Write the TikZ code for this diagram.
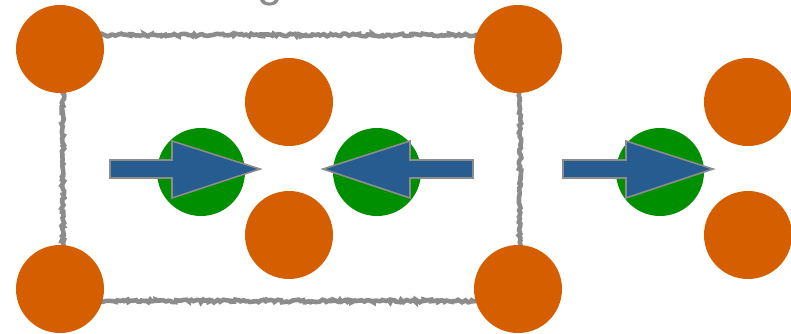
\documentclass[tikz,border=0pt]{standalone}
\usepackage{fontspec}
\setmainfont{Liberation Sans}
\usetikzlibrary{decorations.pathmorphing}
\definecolor{dotorange}{HTML}{D55E00}
\definecolor{dotgreen}{HTML}{008F00}
\definecolor{arrowblue}{HTML}{265C8F}
\definecolor{framegray}{HTML}{8C8C8C}
\begin{document}
\begin{tikzpicture}[x=1pt,y=-1pt,
  dot/.style={circle,minimum size=88pt,inner sep=0pt,draw=none},
  odot/.style={dot,fill=dotorange},
  gdot/.style={dot,fill=dotgreen},
  bigarrow/.style={fill=arrowblue,draw=framegray,line width=1.6pt,line join=miter},
  frame/.style={draw=framegray,line width=4.6pt,decorate,decoration={random steps,segment length=2.2pt,amplitude=1.4pt}}]
\useasboundingbox (0,0) rectangle (791,334);
% partially visible title
\node[anchor=base,text=framegray,font=\fontsize{46}{50}\selectfont,inner sep=0pt] (title) at (270,-3) {g};
% squiggly frame
\draw[frame] (63,35) -- (520,35) -- (520,301) -- (63,301) -- cycle;
% green dots
\node[gdot] (g1) at (201,172) {};
\node[gdot] (g2) at (377,172) {};
\node[gdot] (g3) at (660,172) {};
% orange dots
\node[odot] (o1) at (60,49) {};
\node[odot] (o2) at (518,49) {};
\node[odot] (o3) at (60,289) {};
\node[odot] (o4) at (518,289) {};
\node[odot] (o5) at (289,102) {};
\node[odot] (o6) at (289,235) {};
\node[odot] (o7) at (748,102) {};
\node[odot] (o8) at (748,235) {};
% arrows
\draw[bigarrow] (110,160) -- (172,160) -- (172,141) -- (260,169) -- (172,198) -- (172,178) -- (110,178) -- cycle;
\draw[bigarrow] (473,160) -- (410,160) -- (410,141) -- (323,169) -- (410,198) -- (410,178) -- (473,178) -- cycle;
\draw[bigarrow] (563,160) -- (626,160) -- (626,141) -- (713,169) -- (626,198) -- (626,178) -- (563,178) -- cycle;
\end{tikzpicture}
\end{document}
